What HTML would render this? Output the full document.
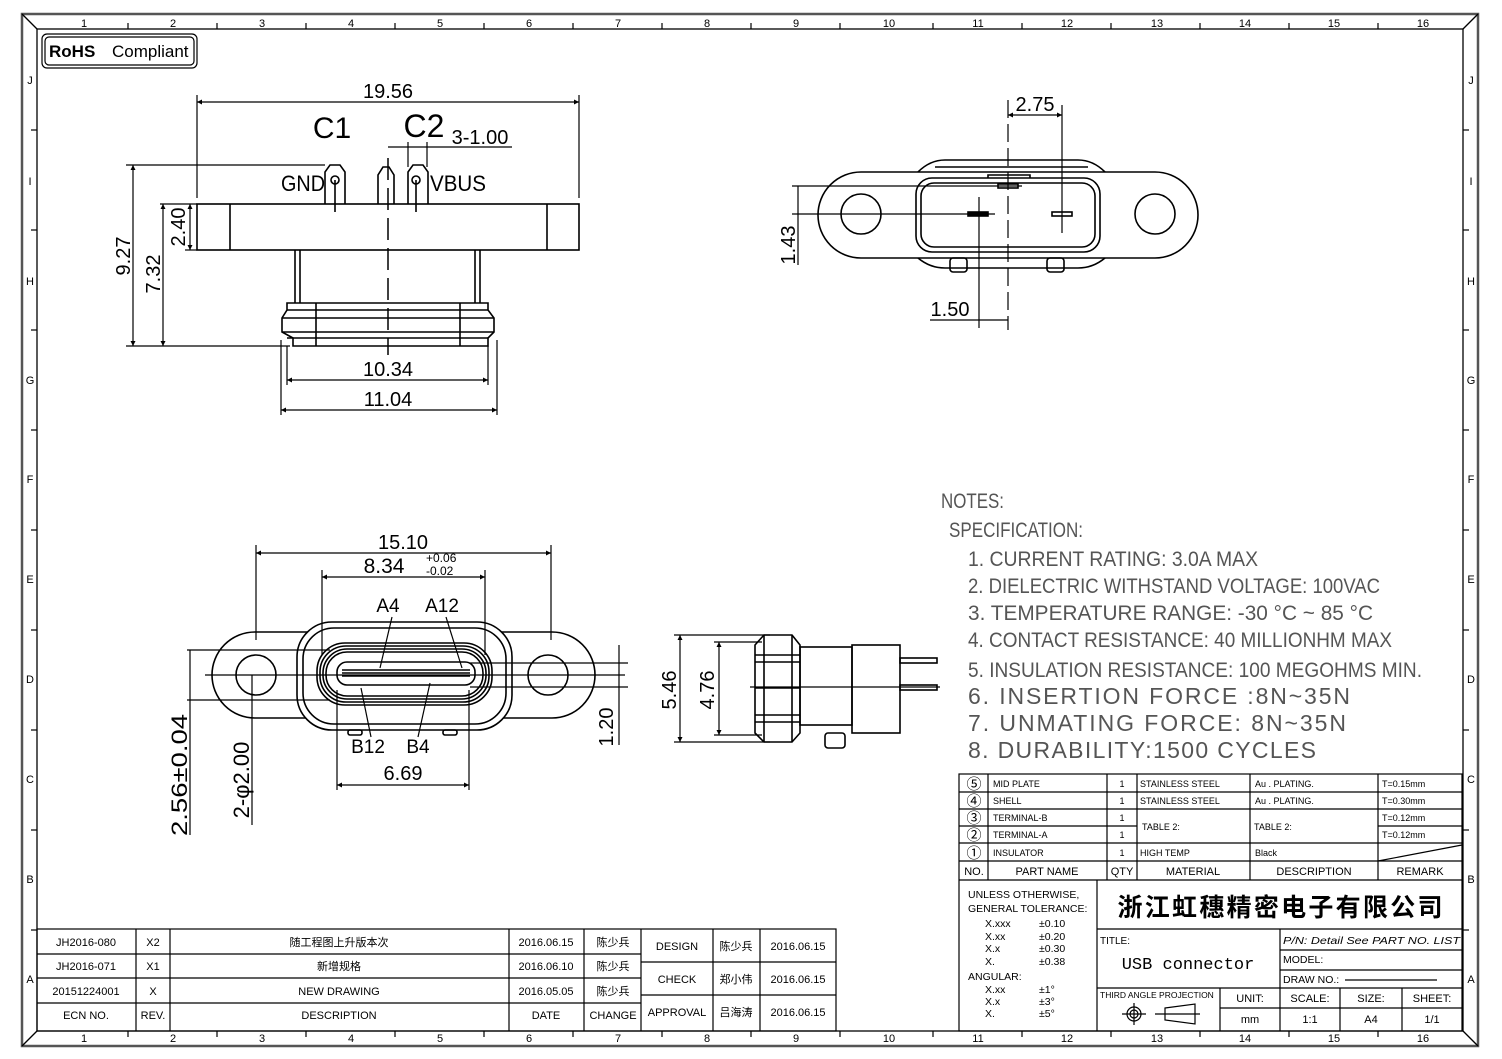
<!DOCTYPE html>
<html><head><meta charset="utf-8"><style>
html,body{margin:0;padding:0;background:#fff;}
svg{display:block;}
text{font-family:"Liberation Sans","Noto Sans CJK SC",sans-serif;fill:#000;}
</style></head><body>
<svg width="1502" height="1059" viewBox="0 0 1502 1059" xmlns="http://www.w3.org/2000/svg">
<defs>
<marker id="ar" viewBox="0 0 10 10" refX="10" refY="5" markerWidth="9" markerHeight="5" orient="auto-start-reverse" markerUnits="userSpaceOnUse"><path d="M0 0 L10 5 L0 10 Z" fill="#000"/></marker>
</defs>
<g fill="none" stroke="#000" stroke-width="1.3">
<rect x="22" y="14" width="1456" height="1032" stroke="#555" stroke-width="2.5"/>
<rect x="37" y="29" width="1426" height="1002"/>
<line x1="22" y1="14" x2="37" y2="29"/><line x1="1478" y1="14" x2="1463" y2="29"/>
<line x1="22" y1="1046" x2="37" y2="1031"/><line x1="1478" y1="1046" x2="1463" y2="1031"/>
</g>
<g stroke="#000" stroke-width="1.2">
<line x1="128" y1="23" x2="128" y2="29"/><line x1="217" y1="23" x2="217" y2="29"/><line x1="306" y1="23" x2="306" y2="29"/><line x1="395" y1="23" x2="395" y2="29"/><line x1="484" y1="23" x2="484" y2="29"/><line x1="573" y1="23" x2="573" y2="29"/><line x1="662" y1="23" x2="662" y2="29"/><line x1="751" y1="23" x2="751" y2="29"/><line x1="840" y1="23" x2="840" y2="29"/><line x1="933" y1="23" x2="933" y2="29"/><line x1="1022" y1="23" x2="1022" y2="29"/><line x1="1111" y1="23" x2="1111" y2="29"/><line x1="1200" y1="23" x2="1200" y2="29"/><line x1="1289" y1="23" x2="1289" y2="29"/><line x1="1378" y1="23" x2="1378" y2="29"/>
<line x1="128" y1="1031" x2="128" y2="1037"/><line x1="217" y1="1031" x2="217" y2="1037"/><line x1="306" y1="1031" x2="306" y2="1037"/><line x1="395" y1="1031" x2="395" y2="1037"/><line x1="484" y1="1031" x2="484" y2="1037"/><line x1="573" y1="1031" x2="573" y2="1037"/><line x1="662" y1="1031" x2="662" y2="1037"/><line x1="751" y1="1031" x2="751" y2="1037"/><line x1="840" y1="1031" x2="840" y2="1037"/><line x1="933" y1="1031" x2="933" y2="1037"/><line x1="1022" y1="1031" x2="1022" y2="1037"/><line x1="1111" y1="1031" x2="1111" y2="1037"/><line x1="1200" y1="1031" x2="1200" y2="1037"/><line x1="1289" y1="1031" x2="1289" y2="1037"/><line x1="1378" y1="1031" x2="1378" y2="1037"/>
<line x1="31" y1="130" x2="37" y2="130"/><line x1="31" y1="230" x2="37" y2="230"/><line x1="31" y1="330" x2="37" y2="330"/><line x1="31" y1="430" x2="37" y2="430"/><line x1="31" y1="530" x2="37" y2="530"/><line x1="31" y1="630" x2="37" y2="630"/><line x1="31" y1="730" x2="37" y2="730"/><line x1="31" y1="830" x2="37" y2="830"/><line x1="31" y1="930" x2="37" y2="930"/>
<line x1="1463" y1="130" x2="1469" y2="130"/><line x1="1463" y1="230" x2="1469" y2="230"/><line x1="1463" y1="330" x2="1469" y2="330"/><line x1="1463" y1="430" x2="1469" y2="430"/><line x1="1463" y1="530" x2="1469" y2="530"/><line x1="1463" y1="630" x2="1469" y2="630"/><line x1="1463" y1="730" x2="1469" y2="730"/><line x1="1463" y1="830" x2="1469" y2="830"/><line x1="1463" y1="930" x2="1469" y2="930"/>
</g>
<g font-size="11" text-anchor="middle" fill="#222">
<text x="84" y="27">1</text><text x="173" y="27">2</text><text x="262" y="27">3</text><text x="351" y="27">4</text><text x="440" y="27">5</text><text x="529" y="27">6</text><text x="618" y="27">7</text><text x="707" y="27">8</text><text x="796" y="27">9</text><text x="889" y="27">10</text><text x="978" y="27">11</text><text x="1067" y="27">12</text><text x="1157" y="27">13</text><text x="1245" y="27">14</text><text x="1334" y="27">15</text><text x="1423" y="27">16</text>
<text x="84" y="1042">1</text><text x="173" y="1042">2</text><text x="262" y="1042">3</text><text x="351" y="1042">4</text><text x="440" y="1042">5</text><text x="529" y="1042">6</text><text x="618" y="1042">7</text><text x="707" y="1042">8</text><text x="796" y="1042">9</text><text x="889" y="1042">10</text><text x="978" y="1042">11</text><text x="1067" y="1042">12</text><text x="1157" y="1042">13</text><text x="1245" y="1042">14</text><text x="1334" y="1042">15</text><text x="1423" y="1042">16</text>
<text x="30" y="84">J</text><text x="30" y="185">I</text><text x="30" y="285">H</text><text x="30" y="384">G</text><text x="30" y="483">F</text><text x="30" y="583">E</text><text x="30" y="683">D</text><text x="30" y="783">C</text><text x="30" y="883">B</text><text x="30" y="983">A</text>
<text x="1471" y="84">J</text><text x="1471" y="185">I</text><text x="1471" y="285">H</text><text x="1471" y="384">G</text><text x="1471" y="483">F</text><text x="1471" y="583">E</text><text x="1471" y="683">D</text><text x="1471" y="783">C</text><text x="1471" y="883">B</text><text x="1471" y="983">A</text>
</g>
<rect x="42" y="34" width="155" height="34" rx="5" fill="none" stroke="#000" stroke-width="1.2"/>
<rect x="45" y="37" width="149" height="28" rx="4" fill="none" stroke="#000" stroke-width="1.2"/>
<text x="49" y="57" font-size="17" font-weight="bold">RoHS</text>
<text x="112" y="57" font-size="17">Compliant</text>

<!-- TOP LEFT VIEW -->
<g fill="none" stroke="#000" stroke-width="1.6">
<rect x="197" y="204" width="382" height="46"/>
<line x1="230" y1="204" x2="230" y2="250"/><line x1="547" y1="204" x2="547" y2="250"/>
<line x1="295" y1="250" x2="295" y2="303"/><line x1="300" y1="250" x2="300" y2="303"/>
<line x1="480" y1="250" x2="480" y2="303"/><line x1="475" y1="250" x2="475" y2="303"/>
<path d="M287 303 H488 V310 L494 318 V332 L488 338 V346 H293 V338 L282 332 V318 L287 310 Z"/>
<line x1="287" y1="310" x2="488" y2="310"/><line x1="282" y1="318" x2="494" y2="318"/><line x1="282" y1="332" x2="494" y2="332"/><line x1="287" y1="338" x2="488" y2="338"/>
<line x1="316" y1="303" x2="316" y2="346"/><line x1="460" y1="303" x2="460" y2="346"/>
<path d="M325 204 V172 L330 165 H340 L345 172 V204"/>
<path d="M378 204 V175 L383 167 H389 L394 175 V204"/>
<path d="M408 204 V172 L413 165 H423 L428 172 V204"/>
<circle cx="335" cy="180" r="4"/><circle cx="416" cy="180" r="4"/>
<line x1="335" y1="180" x2="335" y2="212"/><line x1="416" y1="180" x2="416" y2="212"/>
<line x1="388" y1="158" x2="388" y2="355" stroke-dasharray="22 8" stroke-width="1.5"/>
</g>
<g fill="none" stroke="#000" stroke-width="1.2">
<line x1="197" y1="95" x2="197" y2="198"/><line x1="579" y1="95" x2="579" y2="198"/>
<line x1="197" y1="102" x2="579" y2="102" marker-start="url(#ar)" marker-end="url(#ar)"/>
<line x1="388" y1="147" x2="512" y2="147"/><line x1="408" y1="142" x2="408" y2="167"/><line x1="427" y1="142" x2="427" y2="167"/>
<line x1="126" y1="165" x2="325" y2="165"/><line x1="126" y1="346" x2="290" y2="346"/>
<line x1="160" y1="204" x2="197" y2="204"/><line x1="185" y1="250" x2="197" y2="250"/>
<line x1="133" y1="165" x2="133" y2="346" marker-start="url(#ar)" marker-end="url(#ar)"/><line x1="163" y1="204" x2="163" y2="346" marker-start="url(#ar)" marker-end="url(#ar)"/><line x1="190" y1="204" x2="190" y2="250" marker-start="url(#ar)" marker-end="url(#ar)"/>
<line x1="287" y1="346" x2="287" y2="385"/><line x1="488" y1="346" x2="488" y2="385"/>
<line x1="281" y1="340" x2="281" y2="415"/><line x1="497" y1="340" x2="497" y2="415"/>
<line x1="287" y1="380" x2="488" y2="380" marker-start="url(#ar)" marker-end="url(#ar)"/><line x1="281" y1="410" x2="497" y2="410" marker-start="url(#ar)" marker-end="url(#ar)"/>
</g>
<g font-size="20" text-anchor="middle">
<text x="388" y="98">19.56</text>
<text x="332" y="138" font-size="30">C1</text>
<text x="424" y="137" font-size="32">C2</text>
<text x="480" y="144">3-1.00</text>
<text x="303" y="191" font-size="22" textLength="44" lengthAdjust="spacingAndGlyphs">GND</text>
<text x="458" y="191" font-size="22" textLength="56" lengthAdjust="spacingAndGlyphs">VBUS</text>
<text x="388" y="376">10.34</text>
<text x="388" y="406">11.04</text>
<text transform="translate(130 256) rotate(-90)">9.27</text>
<text transform="translate(160 274) rotate(-90)">7.32</text>
<text transform="translate(185 227) rotate(-90)">2.40</text>
</g>

<!-- TOP RIGHT VIEW -->
<g fill="none" stroke="#000" stroke-width="1.6">
<path d="M918 172 Q930 160 945 160 H1078 Q1093 160 1105 172"/>
<path d="M918 258 Q930 268 945 268 H1078 Q1093 268 1105 258"/>
<line x1="935" y1="167" x2="1088" y2="167"/>
<rect x="818" y="172" width="380" height="86" rx="43"/>
<circle cx="861" cy="214" r="20"/><circle cx="1155" cy="214" r="20"/>
<rect x="916" y="178" width="184" height="74" rx="16"/>
<rect x="921" y="183" width="174" height="64" rx="13"/>
<path d="M988 178 V175 H1030 V178"/>
<rect x="998" y="184" width="20" height="4"/>
<rect x="968" y="212" width="20" height="4" fill="#000"/>
<rect x="1052" y="212" width="20" height="4"/>
<rect x="950" y="258" width="17" height="14" rx="3"/><rect x="1047" y="258" width="17" height="14" rx="3"/>
</g>
<g fill="none" stroke="#000" stroke-width="1.2">
<line x1="1008" y1="100" x2="1008" y2="330" stroke-dasharray="18 6"/>
<line x1="979" y1="197" x2="979" y2="328"/>
<line x1="1062" y1="105" x2="1062" y2="233"/>
<line x1="1008" y1="115" x2="1062" y2="115" marker-start="url(#ar)" marker-end="url(#ar)"/>
<line x1="792" y1="186" x2="1022" y2="186"/><line x1="792" y1="214" x2="995" y2="214"/>
<line x1="798" y1="186" x2="798" y2="265"/>
<line x1="930" y1="320" x2="1008" y2="320"/>
</g>
<g font-size="20" text-anchor="middle">
<text x="1035" y="111">2.75</text>
<text x="950" y="316">1.50</text>
<text transform="translate(795 245) rotate(-90)">1.43</text>
</g>

<!-- FRONT VIEW -->
<g fill="none" stroke="#000" stroke-width="1.6">
<rect x="212" y="632" width="383" height="86" rx="43"/>
<circle cx="256" cy="675" r="20" fill="#fff"/><circle cx="548" cy="675" r="20" fill="#fff"/>
<rect x="297" y="622" width="215" height="108" rx="35" fill="#fff"/>
<rect x="303" y="628" width="203" height="96" rx="31"/>
<rect x="317" y="643" width="175" height="62" rx="28"/>
<rect x="320" y="646" width="169" height="56" rx="26"/>
<rect x="323" y="649" width="163" height="50" rx="24"/>
<rect x="326" y="652" width="157" height="44" rx="21"/>
<rect x="337" y="662" width="138" height="23" rx="10"/>
<line x1="342" y1="670" x2="470" y2="670"/><line x1="342" y1="673" x2="470" y2="673"/><line x1="342" y1="676" x2="470" y2="676"/>
<rect x="348" y="730" width="14" height="5" rx="2"/><rect x="443" y="730" width="14" height="5" rx="2"/>
</g>
<g fill="none" stroke="#000" stroke-width="1.2">
<line x1="205" y1="675" x2="625" y2="675"/>
<line x1="256" y1="545" x2="256" y2="640"/><line x1="551" y1="545" x2="551" y2="640"/>
<line x1="256" y1="553" x2="551" y2="553" marker-start="url(#ar)" marker-end="url(#ar)"/>
<line x1="322" y1="570" x2="322" y2="655"/><line x1="485" y1="570" x2="485" y2="655"/>
<line x1="322" y1="577" x2="485" y2="577" marker-start="url(#ar)" marker-end="url(#ar)"/>
<line x1="187" y1="650" x2="330" y2="650"/><line x1="187" y1="700" x2="330" y2="700"/>
<line x1="190" y1="650" x2="190" y2="835"/>
<line x1="252" y1="675" x2="252" y2="825"/>
<line x1="470" y1="663" x2="628" y2="663"/><line x1="470" y1="687" x2="628" y2="687"/>
<line x1="619" y1="645" x2="619" y2="745"/>
<line x1="337" y1="690" x2="337" y2="790"/><line x1="469" y1="690" x2="469" y2="790"/>
<line x1="337" y1="785" x2="469" y2="785" marker-start="url(#ar)" marker-end="url(#ar)"/>
<line x1="392" y1="617" x2="380" y2="668"/><line x1="446" y1="617" x2="462" y2="668"/>
<line x1="361" y1="688" x2="371" y2="737"/><line x1="430" y1="683" x2="418" y2="737"/>
</g>
<g font-size="20" text-anchor="middle">
<text x="403" y="549">15.10</text>
<text x="384" y="573" font-size="21">8.34</text>
<text x="426" y="562" font-size="12" text-anchor="start">+0.06</text>
<text x="426" y="575" font-size="12" text-anchor="start">-0.02</text>
<text x="388" y="612" font-size="19">A4</text>
<text x="442" y="612" font-size="19">A12</text>
<text x="368" y="753" font-size="19">B12</text>
<text x="418" y="753" font-size="19">B4</text>
<text x="403" y="780">6.69</text>
<text transform="translate(187 775) rotate(-90)" font-size="22" textLength="122" lengthAdjust="spacingAndGlyphs">2.56±0.04</text>
<text transform="translate(249 780) rotate(-90)" font-size="22">2-φ2.00</text>
<text transform="translate(613 727) rotate(-90)">1.20</text>
</g>

<!-- SIDE VIEW -->
<g fill="none" stroke="#000" stroke-width="1.6">
<path d="M755 645 L764 635 H792 L800 645 V733 L792 742 H764 L755 733 Z"/>
<line x1="755" y1="655" x2="800" y2="655"/><line x1="755" y1="662" x2="800" y2="662"/><line x1="755" y1="688" x2="800" y2="688"/><line x1="755" y1="715" x2="800" y2="715"/><line x1="755" y1="722" x2="800" y2="722"/>
<line x1="764" y1="635" x2="764" y2="742"/><line x1="792" y1="635" x2="792" y2="742"/>
<rect x="800" y="647" width="52" height="78"/>
<rect x="852" y="645" width="48" height="88"/>
<rect x="900" y="658" width="37" height="5"/><rect x="900" y="685" width="37" height="5"/>
<rect x="825" y="733" width="20" height="15" rx="3"/>
</g>
<g fill="none" stroke="#000" stroke-width="1.2">
<line x1="674" y1="635" x2="770" y2="635"/><line x1="674" y1="742" x2="770" y2="742"/>
<line x1="680" y1="635" x2="680" y2="742" marker-start="url(#ar)" marker-end="url(#ar)"/>
<line x1="714" y1="642" x2="762" y2="642"/><line x1="714" y1="735" x2="762" y2="735"/>
<line x1="719" y1="642" x2="719" y2="735" marker-start="url(#ar)" marker-end="url(#ar)"/>
<line x1="750" y1="687" x2="940" y2="687"/>
</g>
<g font-size="20" text-anchor="middle">
<text transform="translate(676 690) rotate(-90)">5.46</text>
<text transform="translate(714 690) rotate(-90)">4.76</text>
</g>

<!-- NOTES -->
<g font-size="21">
<text x="941" y="508" textLength="63" lengthAdjust="spacingAndGlyphs" style="fill:#555">NOTES:</text>
<text x="949" y="537" textLength="134" lengthAdjust="spacingAndGlyphs" style="fill:#555">SPECIFICATION:</text>
<text x="968" y="566" textLength="290" lengthAdjust="spacingAndGlyphs" style="fill:#555">1. CURRENT RATING: 3.0A MAX</text>
<text x="968" y="593" textLength="412" lengthAdjust="spacingAndGlyphs" style="fill:#555">2. DIELECTRIC WITHSTAND VOLTAGE: 100VAC</text>
<text x="968" y="620" textLength="405" lengthAdjust="spacingAndGlyphs" style="fill:#555">3. TEMPERATURE RANGE: -30 °C ~ 85 °C</text>
<text x="968" y="647" textLength="424" lengthAdjust="spacingAndGlyphs" style="fill:#555">4. CONTACT RESISTANCE: 40 MILLIONHM MAX</text>
<text x="968" y="677" textLength="454" lengthAdjust="spacingAndGlyphs" style="fill:#555">5. INSULATION RESISTANCE: 100 MEGOHMS MIN.</text>
<text x="968" y="704" font-size="23" textLength="382" style="fill:#555">6. INSERTION FORCE :8N~35N</text>
<text x="968" y="731" font-size="23" textLength="378" style="fill:#555">7. UNMATING FORCE: 8N~35N</text>
<text x="968" y="758" font-size="23" textLength="348" style="fill:#555">8. DURABILITY:1500 CYCLES</text>
</g>

<!-- PARTS TABLE / TITLE BLOCK -->
<g fill="none" stroke="#000" stroke-width="1.2">
<rect x="959" y="774" width="503" height="257"/>
<line x1="959" y1="792" x2="1462" y2="792"/><line x1="959" y1="809" x2="1462" y2="809"/>
<line x1="959" y1="826" x2="1137" y2="826"/><line x1="1378" y1="826" x2="1462" y2="826"/>
<line x1="959" y1="843" x2="1462" y2="843"/><line x1="959" y1="861" x2="1462" y2="861"/><line x1="959" y1="880" x2="1462" y2="880"/>
<line x1="1378" y1="861" x2="1462" y2="845"/>
<line x1="988" y1="774" x2="988" y2="880"/><line x1="1107" y1="774" x2="1107" y2="880"/><line x1="1137" y1="774" x2="1137" y2="880"/><line x1="1250" y1="774" x2="1250" y2="880"/><line x1="1378" y1="774" x2="1378" y2="880"/>
<line x1="1097" y1="880" x2="1097" y2="1031"/>
<line x1="1097" y1="929" x2="1462" y2="929"/>
<line x1="1280" y1="929" x2="1280" y2="1031"/>
<line x1="1280" y1="950" x2="1462" y2="950"/><line x1="1280" y1="970" x2="1462" y2="970"/>
<line x1="1097" y1="988" x2="1462" y2="988"/>
<line x1="1220" y1="988" x2="1220" y2="1031"/><line x1="1340" y1="988" x2="1340" y2="1031"/><line x1="1402" y1="988" x2="1402" y2="1031"/>
<line x1="1220" y1="1008" x2="1462" y2="1008"/>
<line x1="1345" y1="980" x2="1437" y2="980"/>
<circle cx="1134" cy="1014" r="7"/><circle cx="1134" cy="1014" r="4"/>
<line x1="1122" y1="1014" x2="1146" y2="1014"/><line x1="1134" y1="1003" x2="1134" y2="1025"/>
<path d="M1165 1008 L1195 1004 V1024 L1165 1020 Z"/><line x1="1155" y1="1014" x2="1200" y2="1014"/>
<rect x="37" y="929" width="799" height="102"/>
<line x1="37" y1="954" x2="641" y2="954"/><line x1="37" y1="978" x2="641" y2="978"/><line x1="37" y1="1003" x2="641" y2="1003"/>
<line x1="641" y1="962" x2="836" y2="962"/><line x1="641" y1="995" x2="836" y2="995"/>
<line x1="136" y1="929" x2="136" y2="1031"/><line x1="170" y1="929" x2="170" y2="1031"/><line x1="509" y1="929" x2="509" y2="1031"/><line x1="584" y1="929" x2="584" y2="1031"/><line x1="641" y1="929" x2="641" y2="1031"/><line x1="713" y1="929" x2="713" y2="1031"/><line x1="760" y1="929" x2="760" y2="1031"/>
</g>
<g font-size="9">
<g font-size="15" text-anchor="middle"><text x="974" y="789">⑤</text><text x="974" y="806">④</text><text x="974" y="823">③</text><text x="974" y="840">②</text><text x="974" y="858">①</text></g>
<text x="993" y="787">MID PLATE</text><text x="993" y="804">SHELL</text><text x="993" y="821">TERMINAL-B</text><text x="993" y="838">TERMINAL-A</text><text x="993" y="856">INSULATOR</text>
<g text-anchor="middle"><text x="1122" y="787">1</text><text x="1122" y="804">1</text><text x="1122" y="821">1</text><text x="1122" y="838">1</text><text x="1122" y="856">1</text></g>
<text x="1140" y="787">STAINLESS STEEL</text><text x="1140" y="804">STAINLESS STEEL</text><text x="1142" y="830">TABLE 2:</text><text x="1140" y="856">HIGH TEMP</text>
<text x="1255" y="787">Au . PLATING.</text><text x="1255" y="804">Au . PLATING.</text><text x="1254" y="830">TABLE 2:</text><text x="1255" y="856">Black</text>
<text x="1382" y="787">T=0.15mm</text><text x="1382" y="804">T=0.30mm</text><text x="1382" y="821">T=0.12mm</text><text x="1382" y="838">T=0.12mm</text>
<g font-size="11" text-anchor="middle"><text x="974" y="875">NO.</text><text x="1047" y="875">PART NAME</text><text x="1122" y="875">QTY</text><text x="1193" y="875">MATERIAL</text><text x="1314" y="875">DESCRIPTION</text><text x="1420" y="875">REMARK</text></g>
<g font-size="10.5"><text x="968" y="898">UNLESS OTHERWISE,</text><text x="968" y="912">GENERAL TOLERANCE:</text>
<text x="985" y="927">X.xxx</text><text x="1039" y="927">±0.10</text><text x="985" y="940">X.xx</text><text x="1039" y="940">±0.20</text><text x="985" y="952">X.x</text><text x="1039" y="952">±0.30</text><text x="985" y="965">X.</text><text x="1039" y="965">±0.38</text>
<text x="968" y="980">ANGULAR:</text><text x="985" y="993">X.xx</text><text x="1039" y="993">±1°</text><text x="985" y="1005">X.x</text><text x="1039" y="1005">±3°</text><text x="985" y="1017">X.</text><text x="1039" y="1017">±5°</text></g>
<text x="1280" y="916" font-size="25" font-weight="bold" text-anchor="middle" textLength="325">浙江虹穗精密电子有限公司</text>
<text x="1100" y="944" font-size="10">TITLE:</text>
<text x="1188" y="969" font-size="17" text-anchor="middle" style="font-family:'Liberation Mono',monospace">USB connector</text>
<text x="1283" y="944" font-size="10.5" font-style="italic" textLength="177" lengthAdjust="spacingAndGlyphs">P/N: Detail See PART NO. LIST</text>
<text x="1283" y="963" font-size="10.5">MODEL:</text><text x="1283" y="983" font-size="10.5">DRAW NO.:</text>
<text x="1100" y="998" font-size="8.5">THIRD ANGLE PROJECTION</text>
<g font-size="11" text-anchor="middle"><text x="1250" y="1002">UNIT:</text><text x="1310" y="1002">SCALE:</text><text x="1371" y="1002">SIZE:</text><text x="1432" y="1002">SHEET:</text>
<text x="1250" y="1023">mm</text><text x="1310" y="1023">1:1</text><text x="1371" y="1023">A4</text><text x="1432" y="1023">1/1</text></g>
<g font-size="11" text-anchor="middle">
<text x="86" y="946">JH2016-080</text><text x="153" y="946">X2</text><text x="339" y="946">随工程图上升版本次</text><text x="546" y="946">2016.06.15</text><text x="613" y="946">陈少兵</text>
<text x="86" y="970">JH2016-071</text><text x="153" y="970">X1</text><text x="339" y="970">新增规格</text><text x="546" y="970">2016.06.10</text><text x="613" y="970">陈少兵</text>
<text x="86" y="995">20151224001</text><text x="153" y="995">X</text><text x="339" y="995">NEW DRAWING</text><text x="546" y="995">2016.05.05</text><text x="613" y="995">陈少兵</text>
<text x="86" y="1019">ECN NO.</text><text x="153" y="1019">REV.</text><text x="339" y="1019">DESCRIPTION</text><text x="546" y="1019">DATE</text><text x="613" y="1019">CHANGE</text>
<text x="677" y="950">DESIGN</text><text x="736" y="950">陈少兵</text><text x="798" y="950">2016.06.15</text>
<text x="677" y="983">CHECK</text><text x="736" y="983">郑小伟</text><text x="798" y="983">2016.06.15</text>
<text x="677" y="1016">APPROVAL</text><text x="736" y="1016">吕海涛</text><text x="798" y="1016">2016.06.15</text>
</g>
</g>
</svg>
</body></html>
